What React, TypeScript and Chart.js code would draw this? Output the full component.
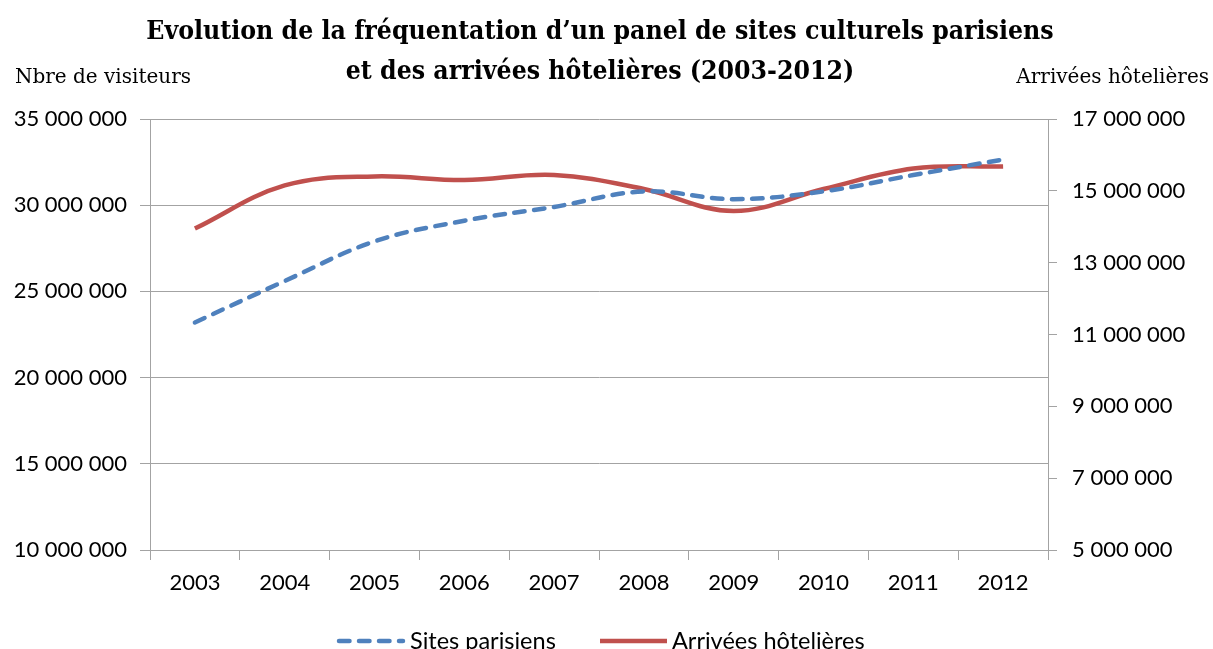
import React, { useEffect, useRef } from "react";
import { Chart, registerables } from "chart.js";

Chart.register(...registerables);

const TITLE_LINES = [
  "Evolution de la fréquentation d’un panel de sites culturels parisiens",
  "et des arrivées hôtelières (2003-2012)",
];
const LEFT_AXIS_TITLE = "Nbre de visiteurs";
const RIGHT_AXIS_TITLE = "Arrivées hôtelières";

const years = ["2003", "2004", "2005", "2006", "2007", "2008", "2009", "2010", "2011", "2012"];
const sitesParisiens = [23200000, 25600000, 27900000, 29100000, 29900000, 30800000, 30350000, 30800000, 31750000, 32650000];
const arriveesHotelieres = [13950000, 15150000, 15400000, 15300000, 15440000, 15050000, 14440000, 15050000, 15620000, 15680000];

const SERIES_NAMES = ["Sites parisiens", "Arrivées hôtelières"];
const SERIES_COLORS = ["#4F81BD", "#C0504D"];

const LEFT_MIN = 10000000, LEFT_MAX = 35000000, LEFT_STEP = 5000000;
const RIGHT_MIN = 5000000, RIGHT_MAX = 17000000, RIGHT_STEP = 2000000;

const SANS = "Lato";
const SERIF = "DejaVu Serif";
const GRID = "#a3a3a3";

const fmt = (v: number | string) =>
  String(Math.round(Number(v))).replace(/\B(?=(\d{3})+(?!\d))/g, " ");

const setTitleFont = (ctx: any, size: number) => {
  ctx.font = `bold ${size}px "${SERIF}"`;
  try {
    ctx.fontStretch = "condensed";
  } catch (e) {}
};

const textPlugin = {
  id: "texts",
  afterDraw(chart: any) {
    const ctx = chart.ctx as any;
    ctx.save();
    ctx.fillStyle = "#000";
    ctx.textBaseline = "alphabetic";
    // Title
    ctx.textAlign = "center";
    setTitleFont(ctx, 100);
    const w = ctx.measureText(TITLE_LINES[0]).width;
    const size = Math.min(27, (100 * 908) / w);
    setTitleFont(ctx, size);
    ctx.fillText(TITLE_LINES[0], 600, 39);
    ctx.fillText(TITLE_LINES[1], 600, 79);
    try {
      ctx.fontStretch = "normal";
    } catch (e) {}
    // axis titles
    ctx.font = `20px "${SERIF}"`;
    ctx.textAlign = "left";
    ctx.fillText(LEFT_AXIS_TITLE, 15, 83);
    ctx.textAlign = "right";
    ctx.fillText(RIGHT_AXIS_TITLE, 1209, 83);
    // legend
    const ly = 641;
    ctx.lineWidth = 4.5;
    ctx.lineCap = "round";
    ctx.strokeStyle = SERIES_COLORS[0];
    ctx.setLineDash([10.5, 9.5]);
    ctx.beginPath();
    ctx.moveTo(339, ly);
    ctx.lineTo(403, ly);
    ctx.stroke();
    ctx.setLineDash([]);
    ctx.strokeStyle = SERIES_COLORS[1];
    ctx.lineCap = "butt";
    ctx.beginPath();
    ctx.moveTo(600, ly);
    ctx.lineTo(667, ly);
    ctx.stroke();
    ctx.font = `23.5px "${SANS}"`;
    ctx.textAlign = "left";
    ctx.fillStyle = "#000";
    ctx.fillText(SERIES_NAMES[0], 410, 649);
    ctx.fillText(SERIES_NAMES[1], 672, 649);
    ctx.restore();
  },
};

export default function App() {
  const ref = useRef<HTMLCanvasElement | null>(null);
  useEffect(() => {
    if (!ref.current) return;
    const chart = new Chart(ref.current, {
      type: "line",
      data: {
        labels: years,
        datasets: [
          {
            label: SERIES_NAMES[0],
            data: sitesParisiens,
            yAxisID: "y",
            borderColor: SERIES_COLORS[0],
            backgroundColor: SERIES_COLORS[0],
            borderWidth: 4.5,
            borderDash: [10.5, 9.5],
            borderCapStyle: "round",
            tension: 0.38,
            pointRadius: 0,
            fill: false,
          },
          {
            label: SERIES_NAMES[1],
            data: arriveesHotelieres,
            yAxisID: "y1",
            borderColor: SERIES_COLORS[1],
            backgroundColor: SERIES_COLORS[1],
            borderWidth: 4.5,
            borderCapStyle: "butt",
            tension: 0.38,
            pointRadius: 0,
            fill: false,
          },
        ],
      },
      options: {
        responsive: false,
        animation: false,
        layout: { padding: { top: 119, left: 0, right: 0, bottom: 0 } },
        plugins: {
          legend: { display: false },
          title: { display: false },
          tooltip: { enabled: false },
        },
        scales: {
          x: {
            type: "category",
            offset: true,
            grid: {
              offset: true,
              drawOnChartArea: false,
              drawTicks: true,
              tickLength: 10,
              color: GRID,
            },
            border: { color: GRID, width: 1 },
            ticks: {
              font: { family: SANS, size: 22 },
              color: "#000",
              padding: 10,
              maxRotation: 0,
            },
            afterFit: (s: any) => {
              s.height = 99;
            },
          },
          y: {
            position: "left",
            min: LEFT_MIN,
            max: LEFT_MAX,
            grid: { color: GRID, tickLength: 10, drawOnChartArea: true },
            border: { color: GRID, width: 1 },
            ticks: {
              stepSize: LEFT_STEP,
              font: { family: SANS, size: 22 },
              color: "#000",
              padding: 13,
              callback: (v: any) => fmt(v),
            },
            afterFit: (s: any) => {
              s.width = 150;
            },
          },
          y1: {
            position: "right",
            min: RIGHT_MIN,
            max: RIGHT_MAX,
            grid: { color: GRID, tickLength: 9, drawOnChartArea: false },
            border: { color: GRID, width: 1 },
            ticks: {
              stepSize: RIGHT_STEP,
              font: { family: SANS, size: 22 },
              color: "#000",
              padding: 15,
              callback: (v: any) => fmt(v),
            },
            afterFit: (s: any) => {
              s.width = 165;
            },
          },
        },
      },
      plugins: [textPlugin],
    } as any);
    return () => chart.destroy();
  }, []);

  return (
    <div style={{ position: "absolute", left: 0, top: 0, width: 1213, height: 649, background: "#fff" }}>
      <canvas ref={ref} width={1213} height={649} style={{ width: 1213, height: 649, display: "block" }} />
    </div>
  );
}
